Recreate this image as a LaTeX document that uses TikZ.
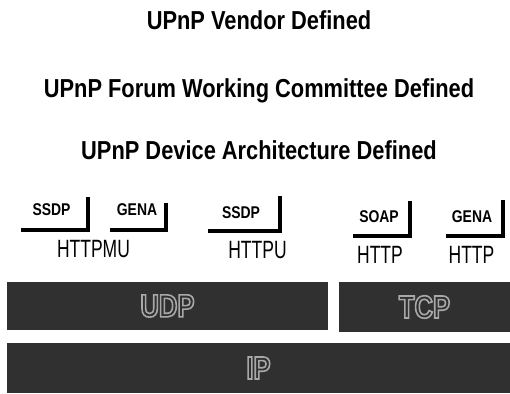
\documentclass[tikz,border=0pt]{standalone}
\usepackage{fontspec}
\setmainfont{Liberation Sans}
\newfontfamily\titlefont[FakeStretch=0.84]{Liberation Sans}
\newfontfamily\protofont[FakeStretch=0.82]{Liberation Sans}
\newfontfamily\carrierfont[FakeStretch=0.70]{Liberation Sans}
\newfontfamily\barfont[FakeStretch=0.80]{Liberation Sans}
\usepackage{xcolor}
\definecolor{barfill}{HTML}{303030}
\definecolor{bartext}{HTML}{A8A8A8}

% outlined word on a dark bar
\newcommand{\hollow}[1]{%
  \special{pdf:literal direct 1 Tr 1.6 w}#1\special{pdf:literal direct 0 Tr}}

\begin{document}
\begin{tikzpicture}[
    x=1pt, y=-1pt,
    title/.style={font=\titlefont\fontsize{26}{28}\selectfont\bfseries,
        inner sep=0pt, anchor=base},
    proto/.style={font=\protofont\fontsize{17}{19}\selectfont\bfseries,
        inner sep=0pt, anchor=base},
    carrier/.style={font=\carrierfont\fontsize{25}{27}\selectfont,
        inner sep=0pt, anchor=base},
    bar/.style={rectangle, fill=barfill, inner sep=0pt, text=bartext,
        font=\barfont\fontsize{32}{34}\selectfont\bfseries},
    brk/.style={line width=4pt, line cap=rect}
]
\useasboundingbox (0,0) rectangle (510,393);

% Layer titles
\node[title] (vendor)  at (259,30)  {UPnP Vendor Defined};
\node[title] (forum)   at (259,97)  {UPnP Forum Working Committee Defined};
\node[title] (devarch) at (259,159) {UPnP Device Architecture Defined};

% Protocol labels
\node[proto] (ssdpa) at (51.5,215) {SSDP};
\node[proto] (genaa) at (137,215)  {GENA};
\node[proto] (ssdpb) at (241,218)  {SSDP};
\node[proto] (soap)  at (379,222)  {SOAP};
\node[proto] (genab) at (472,222)  {GENA};

% Brackets
\draw[brk] (23,230) -- (88,230) -- (88,199);
\draw[brk] (112,230) -- (166,230) -- (166,205);
\draw[brk] (210,231) -- (280,231) -- (280,198);
\draw[brk] (355,236) -- (410,236) -- (410,203);
\draw[brk] (448,236) -- (503,236) -- (503,202);

% Carriers
\node[carrier] (httpmu) at (93.5,257) {HTTPMU};
\node[carrier] (httpu)  at (257.5,258) {HTTPU};
\node[carrier] (httpa)  at (380,263) {HTTP};
\node[carrier] (httpb)  at (471.5,263) {HTTP};

% Transport and network bars
\node[bar, minimum width=321pt, minimum height=48pt] (udp) at (167.5,306) {\hollow{UDP}};
\node[bar, minimum width=171pt, minimum height=50pt] (tcp) at (424.5,307) {\hollow{TCP}};
\node[bar, minimum width=503pt, minimum height=50pt] (ip)  at (258.5,368) {\hollow{IP}};

\end{tikzpicture}
\end{document}
